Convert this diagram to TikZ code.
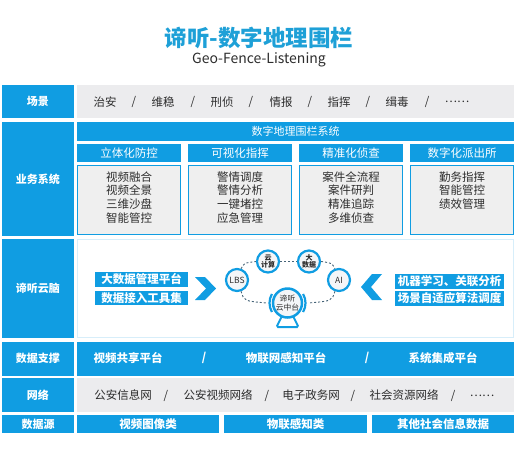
\documentclass[tikz,border=0pt]{standalone}
\usepackage{fontspec}
\setmainfont{Noto Sans CJK SC}
\definecolor{cblue}{RGB}{16,157,226}
\definecolor{ctitle}{RGB}{30,160,215}
\definecolor{cgray}{RGB}{236,236,238}
\definecolor{cdet}{RGB}{239,239,239}
\definecolor{ctext}{RGB}{45,45,45}
\definecolor{cdash}{RGB}{70,100,120}
\definecolor{cline}{RGB}{215,238,250}
\definecolor{cfill}{RGB}{244,246,248}
\tikzset{
  base/.style={inner sep=0pt, outer sep=0pt},
  lbl/.style={base, fill=cblue, text=white, font=\bfseries\fontsize{11}{13}\selectfont, minimum width=72pt},
  grayrow/.style={base, fill=cgray},
  bluebar/.style={base, fill=cblue, text=white, font=\fontsize{11}{13}\selectfont},
  boldbar/.style={base, fill=cblue, text=white, font=\bfseries\fontsize{11.5}{13}\selectfont},
  hdr/.style={base, fill=cblue, text=white, font=\fontsize{11.5}{13}\selectfont, minimum width=104pt, minimum height=18pt},
  det/.style={base, fill=cdet, draw=cblue, line width=0.8pt, minimum width=103pt, minimum height=69pt},
  dettext/.style={base, anchor=north, align=center, text=ctext, font=\fontsize{11.5}{13.6}\selectfont},
  itm/.style={base, text=ctext, font=\fontsize{11.5}{13}\selectfont},
  witm/.style={base, text=white, font=\bfseries\fontsize{11.5}{13}\selectfont},
  circ/.style={circle, draw=cblue, line width=2.2pt, fill=cfill, minimum size=22pt, inner sep=0pt, font=\fontsize{7.5}{7.8}\selectfont, text=ctext, align=center},
  dsh/.style={draw=cdash, dash pattern=on 2pt off 2pt, line width=0.9pt},
  chev/.style={fill=cblue},
}
\begin{document}
\begin{tikzpicture}[x=1pt,y=-1pt]
\useasboundingbox (0,0) rectangle (517,448);
% title
\node[base, text=ctitle, font=\bfseries\fontsize{22.5}{25}\selectfont] (title) at (259,38) {谛听-数字地理围栏};
\node[base, text=ctext, font=\fontsize{14}{16}\selectfont] (subtitle) at (259,60) {Geo-Fence-Listening};

% row 1: scenes
\node[lbl, minimum height=33pt] (l1) at (38,101.5) {场景};
\node[grayrow, minimum width=437pt, minimum height=33pt] (r1) at (295.5,101.5) {};
\foreach \x/\t [count=\i] in {105/治安,163/维稳,222/刑侦,281/情报,339/指挥,397/缉毒,457/……}
  \node[itm] (sc\i) at (\x,102) {\t};
\foreach \x [count=\i] in {134,193,251,310,368,427}
  \node[itm] (scs\i) at (\x,102) {/};

% row 2: business systems
\node[lbl, minimum height=114pt] (l2) at (38,179) {业务系统};
\node[bluebar, minimum width=437pt, minimum height=19pt] (sys) at (295.5,131.5) {数字地理围栏系统};
\node[hdr] (h1) at (129,153) {立体化防控};
\node[hdr] (h2) at (240,153) {可视化指挥};
\node[hdr] (h3) at (351,153) {精准化侦查};
\node[hdr] (h4) at (462,153) {数字化派出所};
\node[det] (d1) at (129,199.5) {};
\node[det] (d2) at (240,199.5) {};
\node[det] (d3) at (351,199.5) {};
\node[det] (d4) at (462,199.5) {};
\node[dettext] (t1) at (129,171.5) {视频融合\\视频全景\\三维沙盘\\智能管控};
\node[dettext] (t2) at (240,171.5) {警情调度\\警情分析\\一键堵控\\应急管理};
\node[dettext] (t3) at (351,171.5) {案件全流程\\案件研判\\精准追踪\\多维侦查};
\node[dettext] (t4) at (462,171.5) {勤务指挥\\智能管控\\绩效管理};

% row 3: cloud brain
\node[lbl, minimum height=99pt] (l3) at (38,288.5) {谛听云脑};
\node[base, draw=cline, line width=1pt, minimum width=436pt, minimum height=98pt] (r3) at (295.5,288.5) {};
\node[boldbar, minimum width=93pt, minimum height=15pt] (b1) at (141.5,279.5) {大数据管理平台};
\node[boldbar, minimum width=93pt, minimum height=14.5pt] (b2) at (141.5,298) {数据接入工具集};
\node[boldbar, minimum width=109pt, minimum height=15pt] (b3) at (449.5,281) {机器学习、关联分析};
\node[boldbar, minimum width=109pt, minimum height=14.5pt] (b4) at (449.5,298.5) {场景自适应算法调度};
\fill[chev] (195,277) -- (205,277) -- (216,288.5) -- (205,300) -- (195,300) -- (206,288.5) -- cycle;
\fill[chev] (382,274) -- (372,274) -- (361,287) -- (372,300) -- (382,300) -- (371,287) -- cycle;

% stand of the central node
\draw[cblue, line width=2pt, fill=white, rounded corners=1.5pt] (282,316) -- (293,316) -- (298.5,327) -- (276.5,327) -- cycle;
\node[circ, font=\fontsize{8.5}{9}\selectfont] (lbs) at (237,280) {LBS};
\node[circ, font=\bfseries\fontsize{7}{7.5}\selectfont] (yun) at (268,261.5) {云\\计算};
\node[circ, font=\bfseries\fontsize{7}{7.5}\selectfont] (dsj) at (309,261.5) {大\\数据};
\node[circ, font=\fontsize{8.5}{9}\selectfont] (ai) at (339,280) {AI};
\node[circ, minimum size=29pt, line width=2.5pt, font=\fontsize{7.8}{8.6}\selectfont] (zt) at (287.5,303) {谛听\\云中台};
\draw[cblue, line width=2.2pt] (zt.center) ++(150:18pt) arc[start angle=150, end angle=210, radius=18pt];
\draw[cblue, line width=2.2pt] (zt.center) ++(-30:18pt) arc[start angle=-30, end angle=30, radius=18pt];
\coordinate (ztl) at ([xshift=-5pt]zt.west);
\coordinate (ztr) at ([xshift=5pt]zt.east);
\draw[dsh] (lbs.70) .. controls (244,263) .. (yun.west);
\draw[dsh] (yun.east) -- (dsj.west);
\draw[dsh] (dsj.east) .. controls (332,263) .. (ai.110);
\draw[dsh] (lbs.-70) .. controls (244,301) .. (ztl);
\draw[dsh] (ai.-110) .. controls (332,301) .. (ztr);

% row 4: data support
\node[lbl, minimum height=34pt] (l4) at (38,358.5) {数据支撑};
\node[base, fill=cblue, minimum width=437pt, minimum height=34pt] (r4) at (295.5,358.5) {};
\node[witm] (p1) at (128,358) {视频共享平台};
\node[witm] (p2) at (286,358) {物联网感知平台};
\node[witm] (p3) at (443,358) {系统集成平台};
\node[witm] (ps1) at (204,358) {/};
\node[witm] (ps2) at (367,358) {/};

% row 5: network
\node[lbl, minimum height=34pt] (l5) at (38,395) {网络};
\node[grayrow, minimum width=437pt, minimum height=34pt] (r5) at (295.5,395) {};
\foreach \x/\t [count=\i] in {123/公安信息网,218/公安视频网络,311/电子政务网,404/社会资源网络,482/……}
  \node[itm] (nw\i) at (\x,395.5) {\t};
\foreach \x [count=\i] in {166,267,353,453}
  \node[itm] (nws\i) at (\x,395.5) {/};

% row 6: data sources
\node[lbl, minimum height=18pt] (l6) at (38,424) {数据源};
\node[boldbar, minimum width=142pt, minimum height=18pt] (ds1) at (148,424) {视频图像类};
\node[boldbar, minimum width=143pt, minimum height=18pt] (ds2) at (295.5,424) {物联感知类};
\node[boldbar, minimum width=142pt, minimum height=18pt] (ds3) at (443,424) {其他社会信息数据};
\end{tikzpicture}
\end{document}
